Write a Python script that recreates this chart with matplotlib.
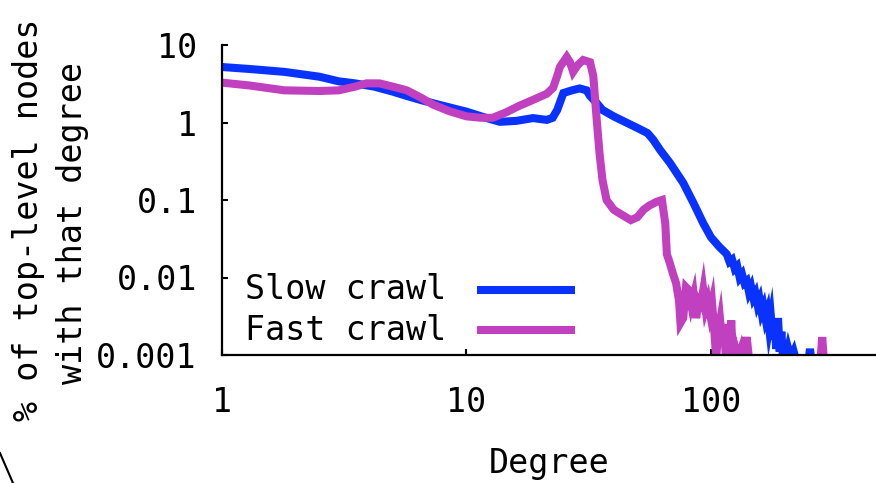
import matplotlib
matplotlib.use("Agg")
import matplotlib.pyplot as plt
from matplotlib.lines import Line2D

# series labels
series_names = ["Slow crawl", "Fast crawl"]

# slow crawl: degree vs % of top-level nodes
slow_deg = [1, 1.3, 1.8, 2.5, 3, 3.5, 4.2, 5, 5.7, 6.5, 7.8, 9, 10, 12, 13.7,
            16, 18.7, 21.3, 22.5, 23.5, 24.9, 27, 29, 31, 32, 34, 36, 40, 45,
            50, 55, 58, 62, 68, 77, 85, 93, 100, 108,
            116, 119, 122, 125, 128, 131, 134, 137, 140, 143, 146, 149, 152,
            155, 158, 161, 164, 167, 170, 173, 176, 179, 182, 185, 188, 191,
            194, 197, 200, 203, 207, 212, 218, 224, 250, 254, 258]
slow_pct = [5.2, 4.9, 4.5, 3.9, 3.4, 3.2, 2.9, 2.5, 2.2, 1.95, 1.68, 1.5, 1.38,
            1.15, 1.02, 1.05, 1.14, 1.08, 1.15, 1.45, 2.4, 2.6, 2.75, 2.6, 2.2,
            1.8, 1.45, 1.2, 1.0, 0.85, 0.73, 0.6, 0.44, 0.3, 0.166, 0.09, 0.05,
            0.033, 0.025,
            0.020, 0.016, 0.017, 0.013, 0.014, 0.010, 0.011, 0.0085, 0.0090,
            0.0065, 0.0075, 0.0055, 0.0062, 0.0045, 0.0052, 0.0036, 0.0042,
            0.0030, 0.0036, 0.0022, 0.0030, 0.0016, 0.0024, 0.0012, 0.0030,
            0.0011, 0.0020, 0.0009, 0.0015, 0.0009, 0.0012, 0.0009, 0.0011,
            0.0008, 0.0008, 0.0012, 0.0008]

# fast crawl
fast_deg = [1, 1.3, 1.8, 2.5, 3, 3.5, 3.9, 4.4, 5, 5.7, 6.5, 7.3, 8.5, 10,
            11.5, 12.8, 14.5, 16.5, 19, 21.3, 22.6, 23.5, 24.1, 25.7, 26.5,
            27.3, 28.5, 30, 32, 33, 34, 35, 36, 37.4, 40, 42, 47, 50, 53, 56,
            60, 63, 65, 66, 68, 70, 72, 74, 75, 77, 79, 81, 83, 85, 87, 89, 91,
            93, 95, 97, 99, 101, 103, 105, 107, 109, 111, 113, 115, 117, 119,
            121, 123, 126, 129, 133, 136, 140, 143, 280, 285, 290]
fast_pct = [3.27, 3.0, 2.6, 2.55, 2.6, 2.9, 3.2, 3.2, 2.9, 2.6, 2.1, 1.7, 1.4,
            1.2, 1.15, 1.15, 1.35, 1.65, 2.0, 2.35, 2.8, 4.0, 5.2, 7.0, 6.0,
            4.5, 5.5, 6.4, 6.0, 4.0, 1.2, 0.4, 0.18, 0.1, 0.075, 0.068, 0.055,
            0.06, 0.075, 0.085, 0.095, 0.1, 0.05, 0.02, 0.015, 0.011, 0.0084,
            0.005, 0.0026, 0.003, 0.0075, 0.0069, 0.0045, 0.006, 0.003, 0.005,
            0.0045, 0.0069, 0.004, 0.005, 0.0035, 0.0047, 0.0022, 0.0009,
            0.002, 0.0028, 0.0015, 0.0025, 0.0009, 0.0015, 0.0009, 0.0028,
            0.0009, 0.0012, 0.0009, 0.0012, 0.0009, 0.0017, 0.0009, 0.0008,
            0.0017, 0.0008]

colors = ["#0a32ff", "#c040c0"]

xticks = [1, 10, 100]
xtick_labels = ["1", "10", "100"]
yticks = [0.001, 0.01, 0.1, 1, 10]
ytick_labels = ["0.001", "0.01", "0.1", "1", "10"]

plt.rcParams["font.family"] = ["DejaVu Sans Mono"]
fs = 24
lw = 5.8

fig = plt.figure(figsize=(8.76, 4.83), dpi=100)
ax = fig.add_axes([222 / 876, 128 / 483, 654 / 876, 310 / 483])

ax.plot(slow_deg, slow_pct, color=colors[0], lw=lw, solid_joinstyle="miter")
ax.plot(fast_deg, fast_pct, color=colors[1], lw=lw, solid_joinstyle="miter")

ax.set_xscale("log")
ax.set_yscale("log")
ax.set_xlim(1, 473)
ax.set_ylim(0.001, 10)

ax.set_xticks(xticks)
ax.set_xticklabels(xtick_labels)
ax.set_yticks(yticks)
ax.set_yticklabels(ytick_labels)
ax.minorticks_off()
ax.tick_params(axis="both", direction="in", length=4, width=1.5, labelsize=fs)
ax.tick_params(axis="x", pad=22)
ax.tick_params(axis="y", pad=18)

for s in ["top", "right"]:
    ax.spines[s].set_visible(False)
for s in ["left", "bottom"]:
    ax.spines[s].set_linewidth(1.6)
    ax.spines[s].set_zorder(5)

# legend drawn gnuplot-style: text then line sample
leg_y = [0.2097, 0.0806]
for name, c, yy in zip(series_names, colors, leg_y):
    ax.text(0.0352, yy, name, transform=ax.transAxes, fontsize=fs,
            va="center", ha="left")
    ax.plot([0.39, 0.54], [yy, yy], transform=ax.transAxes, color=c, lw=lw,
            solid_capstyle="butt", clip_on=False)

fig.text(0.032, 0.5445, "% of top-level nodes", rotation=90, fontsize=fs,
         ha="center", va="center")
fig.text(0.0822, 0.538, "with that degree", rotation=90, fontsize=fs,
         ha="center", va="center")
fig.text(0.6267, 0.0414, "Degree", fontsize=fs, ha="center", va="center")

fig.add_artist(Line2D([0, 0.0148], [0.062, 0.0], color="black", lw=1.5))

fig.savefig("out.png", dpi=100)
